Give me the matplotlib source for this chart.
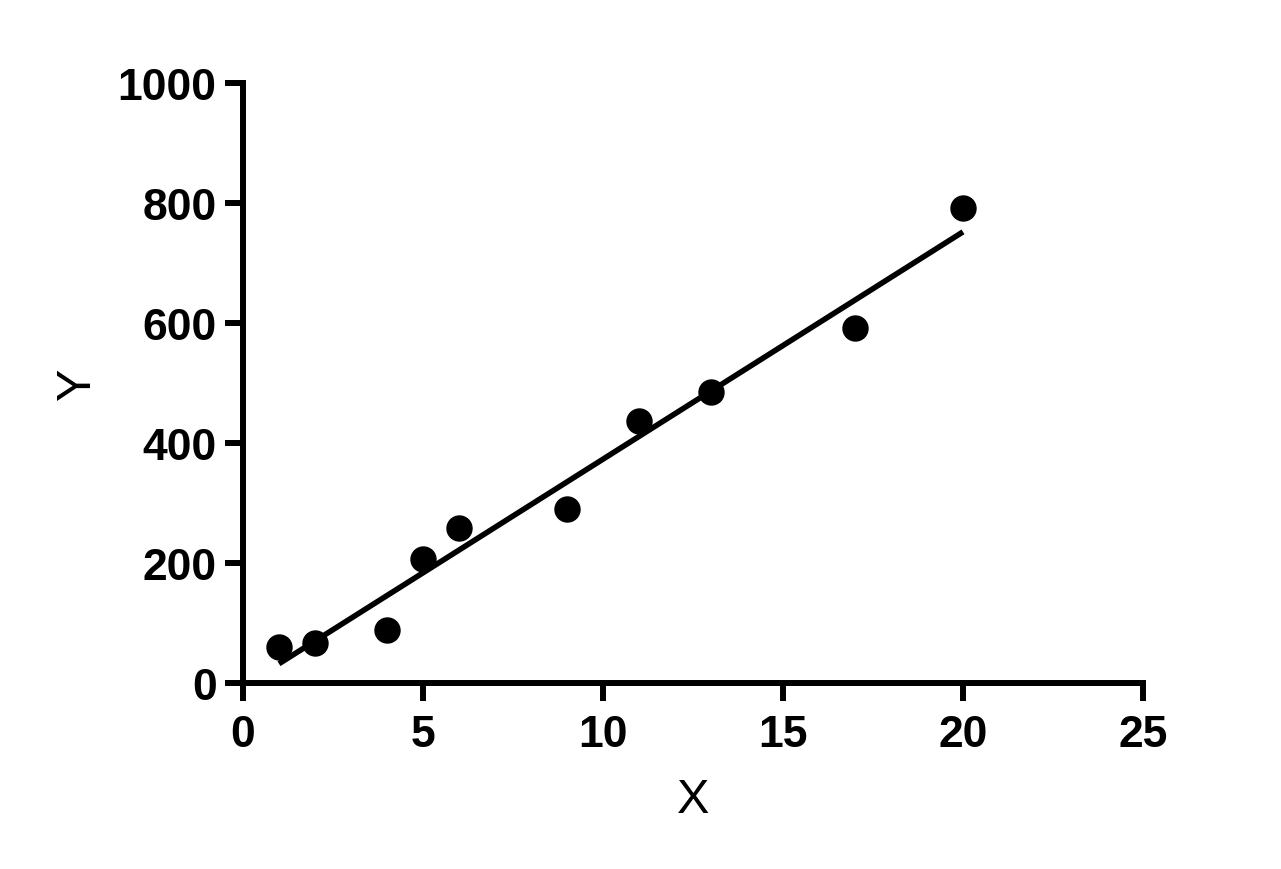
import numpy as np
import matplotlib
matplotlib.use("Agg")
import matplotlib.pyplot as plt

x_vals = [1, 2, 4, 5, 6, 9, 11, 13, 17, 20]
y_vals = [60, 67, 88, 207, 258, 290, 437, 485, 592, 792]
x_ticks = [0, 5, 10, 15, 20, 25]
y_ticks = [0, 200, 400, 600, 800, 1000]

plt.rcParams['font.family'] = ['Liberation Sans', 'DejaVu Sans']

fig = plt.figure(figsize=(12.81, 8.70), dpi=100)
ax = fig.add_axes([243/1281, 1-684/870, 900/1281, 600/870])

slope, intercept = np.polyfit(x_vals, y_vals, 1)
xl = np.array([min(x_vals), max(x_vals)])
ax.plot(xl, slope*xl + intercept, color='black', lw=4, solid_capstyle='butt', zorder=2)
ax.plot(x_vals, y_vals, 'o', color='black', ms=18, zorder=3, clip_on=False)

ax.set_xlim(0, 25)
ax.set_ylim(0, 1000)
ax.set_xticks(x_ticks)
ax.set_yticks(y_ticks)
for s in ['top', 'right']:
    ax.spines[s].set_visible(False)
for s in ['left', 'bottom']:
    ax.spines[s].set_linewidth(4.3)
    ax.spines[s].set_capstyle('projecting')
ax.tick_params(axis='both', which='major', length=13, width=4.3, direction='out',
               labelsize=32)
ax.tick_params(axis='x', pad=9)
ax.tick_params(axis='y', pad=6)
for lab in ax.get_xticklabels() + ax.get_yticklabels():
    lab.set_fontweight('bold')

ax.set_xlabel('X', fontsize=35, labelpad=16)
ax.set_ylabel('Y', fontsize=35, labelpad=13)

fig.savefig('out.png', dpi=100, facecolor='white')
